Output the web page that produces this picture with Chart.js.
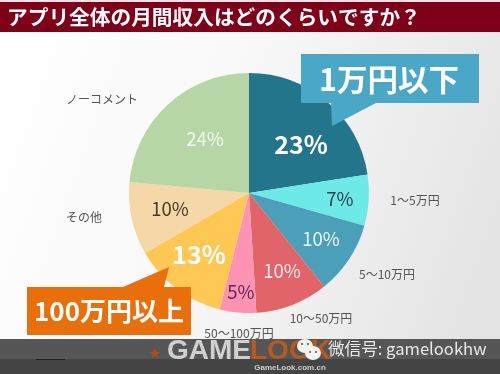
<!DOCTYPE html>
<html><head><meta charset="utf-8">
<style>html,body{margin:0;padding:0;background:#fff}canvas{display:block}</style>
<script src="https://cdn.jsdelivr.net/npm/chart.js@4/dist/chart.umd.min.js"></script>
</head><body>
<div style="width:500px;height:374px;position:relative"><canvas id="c" width="500" height="374"></canvas></div>
<script>
const categories=["1万円以下","1～5万円","5～10万円","10～50万円","50～100万円","100万円以上","その他","ノーコメント"];
const values=[23,7,10,10,5,13,10,24];
const colors=["#23758b","#6deae8","#4b9fb8","#e06468","#fd93b3","#ffc753","#f5d7a8","#b6d6a6"];
const titleText="アプリ全体の月間収入はどのくらいですか？";
const JP='"Noto Sans CJK JP"';
// slice percentage text: x, y, size, weight, colour
const pctStyle=[[301,144,25,"bold","#fff"],[340,199,18.5,"normal","#2d3e50"],[321,239,18.5,"normal","#eef8fb"],[282,271,18.5,"normal","#fbeeee"],[241,292,18.5,"normal","#5a2a50"],[199,254,25,"bold","#fff"],[170,209,18.5,"normal","#4a3a28"],[205,139,18.5,"normal","#f4f8ee"]];
// category text: x, y
const catPos=[null,[415,200],[387,274],[321,318],[239,333],null,[84,217],[102,99]];
function txt(c,s,x,y,font,col,align){c.font=font;c.fillStyle=col;c.textAlign=align||"center";c.textBaseline="middle";c.fillText(s,x,y);}
const back={id:"back",beforeDraw(ch){const c=ch.ctx;
 const g=c.createLinearGradient(0,60,500,240);g.addColorStop(0,"#ffffff");g.addColorStop(.45,"#f8f8f8");g.addColorStop(1,"#e4e4e4");
 c.fillStyle=g;c.fillRect(0,0,500,374);
 c.fillStyle="#f4e4e6";c.fillRect(0,0,500,2);
 c.fillStyle="#7f0019";c.fillRect(0,2,500,30);
 txt(c,titleText,7,17,'bold 20.7px '+JP,"#fff","left");
}};
const over={id:"over",afterDraw(ch){const c=ch.ctx;
 values.forEach((v,i)=>{const p=pctStyle[i];txt(c,v+"%",p[0],p[1],p[3]+" "+p[2]+"px "+JP,p[4]);
  if(catPos[i])txt(c,categories[i],catPos[i][0],catPos[i][1],'12px '+JP,"#555");});
 c.fillStyle="#4ba7c6";c.fillRect(301,54,178,49);
 c.beginPath();c.moveTo(331,103);c.lineTo(332,126);c.lineTo(376,103);c.closePath();c.fill();
 txt(c,categories[0],389,79,'bold 30.5px '+JP,"#fff");
 c.fillStyle="#e86f0a";c.fillRect(27,287,164,48);
 c.beginPath();c.moveTo(123,287);c.lineTo(169,267);c.lineTo(164,287);c.closePath();c.fill();
 txt(c,categories[5],109,311,'bold 26px '+JP,"#fff");
 c.fillStyle="#565656";c.fillRect(0,339,500,20);
 c.fillStyle="#444444";c.fillRect(0,359,500,15);
 c.fillStyle="#222";c.fillRect(36,359,29,1);
 txt(c,"★",155,354,'14px "DejaVu Sans"',"#b5481c");
 txt(c,"GAME",167,351,'bold 28px "Liberation Sans"',"#d0d0d0","left");
 txt(c,"LOOK",250,351,'bold 28px "Liberation Sans"',"#b85a20","left");
 txt(c,"GameLook.com.cn",290,368,'bold 8px "Liberation Sans"',"#cfcfcf");
 c.fillStyle="#f4f4f4";c.beginPath();c.ellipse(305,346,8,7,0,0,7);c.fill();c.beginPath();c.ellipse(313,353,8,7,0,0,7);c.fill();
 c.fillStyle="#7a4a30";[[302,344],[308,344],[310,352],[316,352]].forEach(e=>{c.beginPath();c.arc(e[0],e[1],1,0,7);c.fill();});
 txt(c,"微信号: gamelookhw",328,349,'16.6px '+JP,"#e8e8e8","left");
}};
new Chart(document.getElementById("c"),{type:"pie",
 data:{labels:categories,datasets:[{data:values,backgroundColor:colors,borderWidth:0}]},
 options:{responsive:false,animation:false,rotation:0,
  layout:{padding:{left:129,right:131,top:73,bottom:61}},
  plugins:{legend:{display:false},tooltip:{enabled:false},title:{display:false}}},
 plugins:[back,over]});
</script></body></html>
